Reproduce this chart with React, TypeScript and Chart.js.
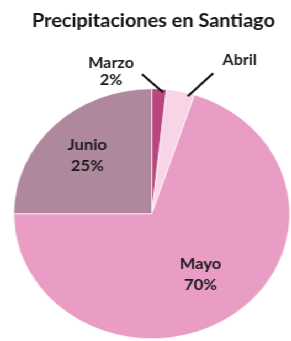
import { useEffect, useRef } from "react";
import { Chart, registerables } from "chart.js";

Chart.register(...registerables);

// ---- data ----
const months = ["Marzo", "Abril", "Mayo", "Junio"];
const shares = [1.7, 3.3, 70, 25];
const showPercent = [true, false, true, true];
const labelInside = [false, false, true, true];
const chartTitle = "Precipitaciones en Santiago";

// ---- style ----
const sliceColors = ["#b8467f", "#f7d4e6", "#e99cc4", "#b0889e"];
const SX = 1.104; // reference image is stretched horizontally
const W = 291;
const H = 341;
const IW = Math.round(W / SX);
const FONT = "Lato, 'Open Sans', sans-serif";

const labelPlugin = {
  id: "pieLabels",
  afterDatasetsDraw(chart: any) {
    const ctx = chart.ctx;
    const meta = chart.getDatasetMeta(0);
    const area = chart.chartArea;
    ctx.save();
    // title
    ctx.fillStyle = "#141414";
    ctx.font = `bold 18px ${FONT}`;
    ctx.textAlign = "center";
    ctx.textBaseline = "alphabetic";
    ctx.fillText(chartTitle, (area.left + area.right) / 2 + 1.5, 27);

    meta.data.forEach((arc: any, i: number) => {
      const p = arc.getProps(["x", "y", "startAngle", "endAngle", "outerRadius"], true);
      const mid = (p.startAngle + p.endAngle) / 2;
      const name = months[i];
      const pct = showPercent[i] ? `${Math.round(shares[i])}%` : "";
      ctx.fillStyle = "#1a1a1a";
      ctx.textAlign = "center";
      if (labelInside[i]) {
        const frac = i === 2 ? 0.6 : 0.66;
        const cx = p.x + Math.cos(mid) * p.outerRadius * frac;
        const cy = p.y + Math.sin(mid) * p.outerRadius * frac;
        ctx.font = `bold 15px ${FONT}`;
        ctx.fillText(name, cx, cy - 5);
        if (pct) ctx.fillText(pct, cx, cy + 16);
      } else {
        const ang = i === 1 ? mid + 0.06 : mid + 0.03;
        const ex = p.x + Math.cos(ang) * (p.outerRadius - 3);
        const ey = p.y + Math.sin(ang) * (p.outerRadius - 3);
        const left = i === 0;
        const sx = ex + (left ? -19 : 23);
        const sy = ey + (left ? -18 : -23);
        ctx.strokeStyle = "#111";
        ctx.lineWidth = 2;
        ctx.beginPath();
        ctx.moveTo(sx, sy);
        ctx.lineTo(ex, ey);
        ctx.stroke();
        ctx.font = `bold 14.5px ${FONT}`;
        if (left) {
          ctx.fillText(name, sx - 28, sy - 6);
          if (pct) ctx.fillText(pct, sx - 28, sy + 11);
        } else {
          ctx.fillText(name, sx + 24, sy - 8);
        }
      }
    });
    ctx.restore();
  },
};

export default function App() {
  const ref = useRef<HTMLCanvasElement | null>(null);
  useEffect(() => {
    if (!ref.current) return;
    const chart = new Chart(ref.current, {
      type: "pie",
      data: {
        labels: months,
        datasets: [
          {
            data: shares,
            backgroundColor: sliceColors,
            borderColor: "rgba(255,255,255,0.7)",
            borderWidth: 1,
          },
        ],
      },
      options: {
        responsive: false,
        animation: false,
        layout: { padding: { left: 12, right: IW - 263, top: 88, bottom: 1.5 } },
        plugins: {
          legend: { display: false },
          title: { display: false },
          tooltip: { enabled: false },
        },
      },
      plugins: [labelPlugin],
    });
    return () => chart.destroy();
  }, []);
  return (
    <div
      style={{
        position: "absolute",
        left: 0,
        top: 0,
        width: IW,
        height: H,
        transform: `scaleX(${SX})`,
        transformOrigin: "0 0",
        background: "#fff",
      }}
    >
      <canvas ref={ref} width={IW} height={H} />
    </div>
  );
}
